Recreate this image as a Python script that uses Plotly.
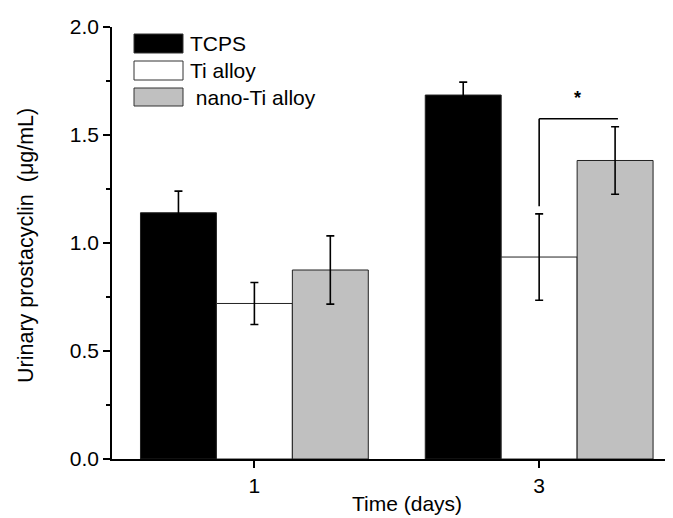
import plotly.graph_objects as go

# ---- data ----
days = ["1", "3"]
series_names = ["TCPS", "Ti alloy", "nano-Ti alloy"]
tcps = [1.14, 1.685]
tcps_err = [0.10, 0.06]
ti = [0.72, 0.935]
ti_err = [0.097, 0.20]
nano = [0.875, 1.382]
nano_err = [0.158, 0.156]
colors = ["#000000", "#ffffff", "#c0c0c0"]

# page body has an 8px margin; compensate so the plot lands where the reference has it
OFF = 8
W, H = 673 - OFF, 518 - OFF
L, R, T, B = 112 - OFF, 0, 27 - OFF, 67 - OFF
FONT = "Arial, Liberation Sans, sans-serif"

fig = go.Figure()
for name, vals, errs, col in zip(series_names, [tcps, ti, nano], [tcps_err, ti_err, nano_err], colors):
    fig.add_trace(go.Bar(
        x=days, y=vals, name=name,
        marker=dict(color=col, line=dict(color="#222222", width=1)),
        error_y=dict(type="data", array=errs, visible=True, color="#000000", thickness=1.6, width=4),
        showlegend=False,
    ))

# significance bracket between Ti alloy and nano-Ti alloy at day 3
bw = 0.8 / 3
x_ti3 = 1
x_nano3 = 1 + bw
fig.add_shape(type="line", xref="x", yref="y", x0=x_ti3, x1=x_nano3 + 0.01, y0=1.575, y1=1.575,
              line=dict(color="black", width=1.6))
fig.add_shape(type="line", xref="x", yref="y", x0=x_ti3, x1=x_ti3, y0=1.575, y1=1.17,
              line=dict(color="black", width=1.6))
fig.add_annotation(x=(x_ti3 + x_nano3) / 2, y=1.67, xref="x", yref="y", text="<b>*</b>",
                   showarrow=False, font=dict(family=FONT, size=18, color="black"))

# pixel helpers (positions in the 673x518 window)
pw = W - L - R
ph = H - T - B
def px(xp):
    return (xp - OFF - L) / pw
def py(yp):
    return (H - B - (yp - OFF)) / ph

# manual legend with large swatches
rows = [(34, 53), (61, 80), (88, 106)]
labels = ["TCPS", "Ti alloy", " nano-Ti alloy"]
for (y0, y1), lab, col in zip(rows, labels, colors):
    fig.add_shape(type="rect", xref="paper", yref="paper", x0=px(134), x1=px(183), y0=py(y1), y1=py(y0),
                  fillcolor=col, line=dict(color="#333333", width=1))
    fig.add_annotation(xref="paper", yref="paper", x=px(188), y=py((y0 + y1) / 2), text=lab,
                       xanchor="left", yanchor="middle", showarrow=False,
                       font=dict(family=FONT, size=21, color="black"))

# axis titles
fig.add_annotation(xref="paper", yref="paper", x=px(407), y=py(503), text="Time (days)",
                   xanchor="center", yanchor="middle", showarrow=False,
                   font=dict(family=FONT, size=21, color="black"))
fig.add_annotation(xref="paper", yref="paper", x=px(26), y=py(246),
                   text="Urinary prostacyclin&nbsp; (μg/mL)", textangle=-90,
                   xanchor="center", yanchor="middle", showarrow=False,
                   font=dict(family=FONT, size=21.5, color="black"))

fig.update_layout(
    width=W, height=H,
    margin=dict(l=L, r=R, t=T, b=B),
    barmode="group", bargap=0.2, bargroupgap=0,
    plot_bgcolor="white", paper_bgcolor="white",
    font=dict(family=FONT, size=21, color="black"),
)
fig.update_xaxes(
    type="category", range=[-0.5, 1.47],
    showline=True, linecolor="black", linewidth=1.5,
    ticks="outside", ticklen=7, tickwidth=1.5, tickcolor="black",
    showgrid=False, zeroline=False,
    tickfont=dict(size=21),
)
fig.update_yaxes(
    range=[0, 2.0], dtick=0.5, tickformat=".1f",
    showline=True, linecolor="black", linewidth=1.5,
    ticks="outside", ticklen=7, tickwidth=1.5, tickcolor="black",
    minor=dict(dtick=0.25, ticks="outside", ticklen=4, tickwidth=1.5, tickcolor="black", showgrid=False),
    showgrid=False, zeroline=False,
    tickfont=dict(size=21),
)

fig.write_html("out.html")
